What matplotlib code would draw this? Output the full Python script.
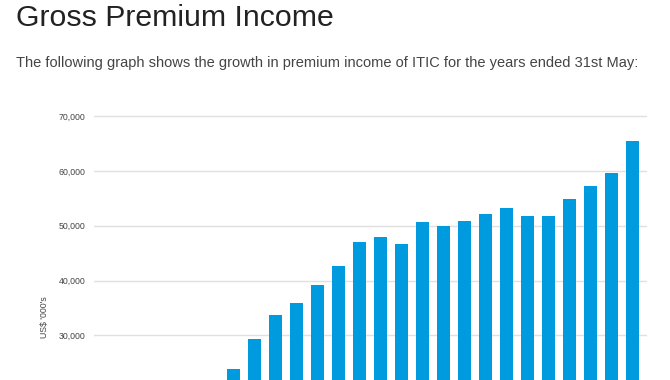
import matplotlib
matplotlib.use("Agg")
import matplotlib.pyplot as plt

# Visible bars (years ended 31st May), left to right
bar_index = list(range(20))
premium = [23800, 29400, 33800, 35900, 39100, 42700, 47100, 48000, 46700, 50600,
           50000, 50900, 52100, 53200, 51800, 51700, 54850, 57300, 59600, 65500]
yticks = [30000, 40000, 50000, 60000, 70000]
ytick_labels = ["30,000", "40,000", "50,000", "60,000", "70,000"]

plt.rcParams['font.family'] = ['Liberation Sans', 'DejaVu Sans']

W, H = 670, 380
fig = plt.figure(figsize=(W / 100, H / 100), dpi=100)
fig.patch.set_facecolor("white")

# axes: left at px 94, right at px 647, bottom below the crop
ax = fig.add_axes([94 / W, 0, (647 - 94) / W, (380 - 110.5) / H])
ax.bar(bar_index, premium, width=0.63, color="#009ADE", zorder=3)
ax.set_xlim(-6.63, 19.70)
ax.set_ylim(21870, 71000)
ax.set_yticks(yticks)
ax.set_yticklabels(ytick_labels, fontsize=6.3, color="#444444")
ax.set_xticks([])
ax.tick_params(axis="y", length=0, pad=6)
ax.grid(axis="y", color="#e0e0e0", linewidth=1, zorder=0)
for s in ax.spines.values():
    s.set_visible(False)

fig.text(44 / W, 1 - 317 / H, "US$ '000's", rotation=90, fontsize=6.3,
         color="#444444", ha="center", va="center")

fig.text(16 / W, 1 - 26.5 / H, "Gross Premium Income", fontsize=21.8,
         color="#222222", ha="left", va="baseline")
fig.text(16 / W, 1 - 67 / H,
         "The following graph shows the growth in premium income of ITIC for the years ended 31st May:",
         fontsize=10.5, color="#444444", ha="left", va="baseline")

fig.savefig("out.png", dpi=100, facecolor="white")
